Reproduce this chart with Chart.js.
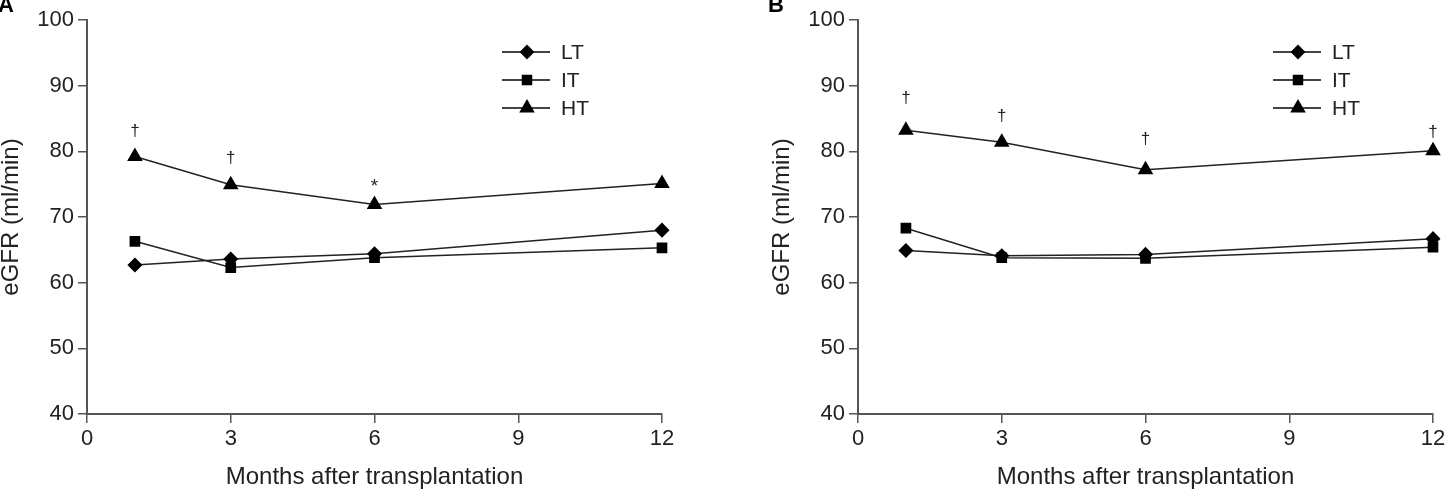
<!DOCTYPE html>
<html>
<head>
<meta charset="utf-8">
<script src="https://cdn.jsdelivr.net/npm/chart.js@4"></script>
<style>
  body { margin: 0; background: #fff; width: 1449px; height: 492px; position: relative; overflow: hidden; }
  .panel { position: absolute; top: 0; width: 726px; height: 492px; }
  .tag { position: absolute; font: bold 22px "Liberation Sans", Arial, sans-serif; color: #000; }
</style>
</head>
<body>
<div class="panel" style="left:-3px"><canvas id="chartA"></canvas></div>
<div class="panel" style="left:768px"><canvas id="chartB"></canvas></div>
<div class="tag" style="left:-2px;top:-8px">A</div>
<div class="tag" style="left:768px;top:-8px">B</div>
<script>
// months
const months = [1, 3, 6, 12];
const xTicks = [0, 3, 6, 9, 12];
const yTicks = [40, 50, 60, 70, 80, 90, 100];
const groups = ['LT', 'IT', 'HT'];

// panel A
const ltA = [62.7, 63.6, 64.4, 68.0];
const itA = [66.3, 62.3, 63.8, 65.3];
const htA = [79.2, 74.9, 71.9, 75.1];
const marksA = ['†', '†', '*', ''];
const marksAY = [83.0, 79.0, 74.6, 0];

// panel B
const ltB = [64.9, 64.1, 64.3, 66.7];
const itB = [68.3, 63.8, 63.7, 65.4];
const htB = [83.2, 81.4, 77.2, 80.1];
const marksB = ['†', '†', '†', '†'];
const marksBY = [88.0, 85.4, 81.8, 82.9];

const FONT = '"Liberation Sans", Arial, sans-serif';
const styles = [
  { pointStyle: 'rectRot', pointRadius: 6.5 },
  { pointStyle: 'rect', pointRadius: 6.5 },
  { pointStyle: 'triangle', pointRadius: 7.5 }
];

// dagger / star annotations above HT
const marksPlugin = {
  id: 'marks',
  afterDatasetsDraw(chart, args, opts) {
    const ctx = chart.ctx;
    const xs = chart.scales.x, ys = chart.scales.y;
    ctx.save();
    ctx.fillStyle = '#222';
    ctx.textAlign = 'center';
    ctx.textBaseline = 'middle';
    opts.labels.forEach((t, i) => {
      if (!t) return;
      ctx.font = (t === '*' ? '19px ' : '17px ') + FONT;
      ctx.fillText(t, xs.getPixelForValue(months[i]), ys.getPixelForValue(opts.at[i]));
    });
    ctx.restore();
  }
};

// legend with line + marker
const legendPlugin = {
  id: 'lineLegend',
  afterDraw(chart, args, opts) {
    const ctx = chart.ctx;
    ctx.save();
    chart.data.datasets.forEach((ds, i) => {
      const y = opts.top + i * opts.gap;
      ctx.strokeStyle = '#444';
      ctx.lineWidth = 2;
      ctx.beginPath();
      ctx.moveTo(opts.left, y);
      ctx.lineTo(opts.left + 48, y);
      ctx.stroke();
      ctx.fillStyle = '#000';
      ctx.strokeStyle = '#000';
      Chart.helpers.drawPoint(ctx, {
        pointStyle: ds.pointStyle, radius: ds.pointRadius - 0.5, rotation: 0, borderWidth: 1
      }, opts.left + 25, y);
      ctx.fillStyle = '#222';
      ctx.font = '21px ' + FONT;
      ctx.textAlign = 'left';
      ctx.textBaseline = 'middle';
      ctx.fillText(ds.label, opts.left + 59, y + 1);
    });
    ctx.restore();
  }
};

function makeChart(id, series, marks, marksAt, legendLeft, padRight) {
  const datasets = series.map((vals, i) => ({
    label: groups[i],
    data: months.map((m, j) => ({ x: m, y: vals[j] })),
    borderColor: '#222',
    backgroundColor: '#000',
    pointBackgroundColor: '#000',
    pointBorderColor: '#000',
    borderWidth: 1.5,
    pointStyle: styles[i].pointStyle,
    pointRadius: styles[i].pointRadius,
    clip: false,
    tension: 0
  }));
  return new Chart(document.getElementById(id), {
    type: 'line',
    data: { datasets },
    options: {
      responsive: true,
      maintainAspectRatio: false,
      animation: false,
      layout: { padding: { top: 20, right: padRight, bottom: 0, left: 0 } },
      plugins: {
        legend: { display: false },
        tooltip: { enabled: false },
        marks: { labels: marks, at: marksAt },
        lineLegend: { left: legendLeft, top: 52, gap: 28 }
      },
      scales: {
        x: {
          type: 'linear', min: 0, max: 12,
          afterBuildTicks: s => { s.ticks = xTicks.map(v => ({ value: v })); },
          afterFit: s => { s.height = 78; },
          grid: { drawOnChartArea: false, tickLength: 9, color: '#555', lineWidth: 1.5 },
          border: { color: '#555', width: 2 },
          ticks: { color: '#222', font: { family: FONT, size: 22 }, padding: 3 },
          title: { display: true, text: 'Months after transplantation', color: '#222',
                   font: { family: FONT, size: 24 }, padding: { top: 0, bottom: 0 } }
        },
        y: {
          min: 40, max: 100,
          afterBuildTicks: s => { s.ticks = yTicks.map(v => ({ value: v })); },
          afterFit: s => { s.width = 90; },
          grid: { drawOnChartArea: false, tickLength: 9, color: '#555', lineWidth: 1.5 },
          border: { color: '#555', width: 2 },
          ticks: { color: '#222', font: { family: FONT, size: 22 }, padding: 4 },
          title: { display: true, text: 'eGFR (ml/min)', color: '#222',
                   font: { family: FONT, size: 24 }, padding: { top: 0, bottom: 0 } }
        }
      }
    },
    plugins: [marksPlugin, legendPlugin]
  });
}

makeChart('chartA', [ltA, itA, htA], marksA, marksAY, 505, 61);
makeChart('chartB', [ltB, itB, htB], marksB, marksBY, 505, 61);
</script>
</body>
</html>
